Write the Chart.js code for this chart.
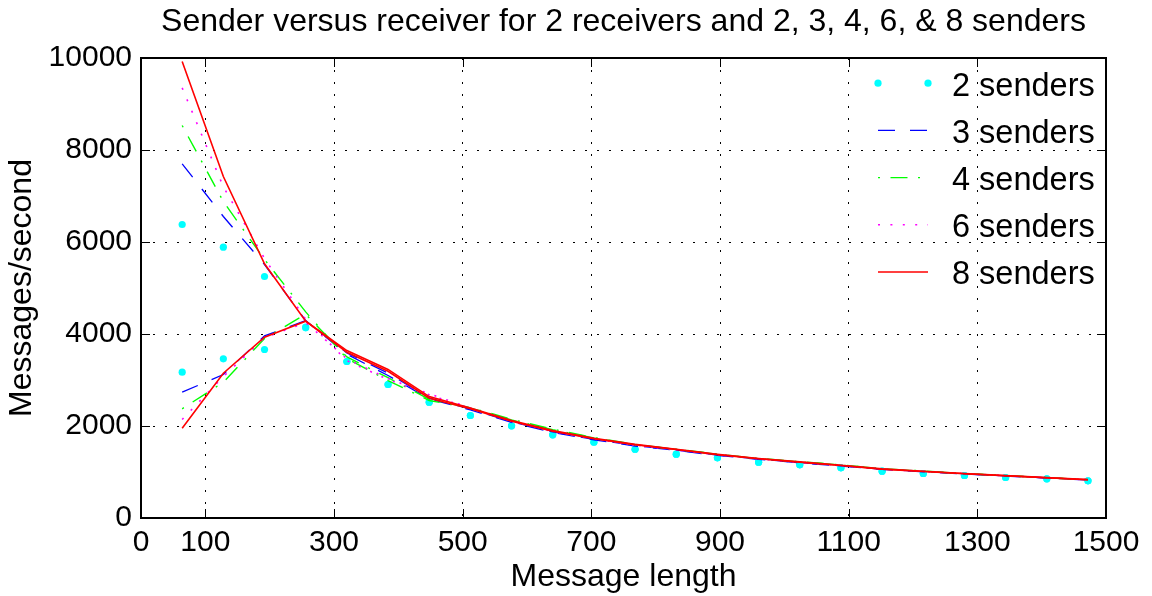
<!DOCTYPE html>
<html>
<head>
<meta charset="utf-8">
<script src="https://cdn.jsdelivr.net/npm/chart.js@4.4.1/dist/chart.umd.min.js"></script>
<style>
html,body{margin:0;padding:0;background:#fff;}
#wrap{width:1152px;height:596px;position:relative;}
</style>
</head>
<body>
<div id="wrap"><canvas id="c" width="1152" height="596"></canvas></div>
<script>
// ---- data ----
const messageLength = [64,128,192,256,320,384,448,512,576,640,704,768,832,896,960,1024,1088,1152,1216,1280,1344,1408,1472];

const senders2Sender   = [6380,5887,5250,4135,3402,2902,2517,2228,2004,1808,1648,1495,1387,1309,1213,1157,1091,1017,967,924,880,852,809];
const senders2Receiver = [3170,3461,3663,4150,3402,2902,2517,2228,2004,1808,1648,1495,1387,1309,1213,1157,1091,1017,967,924,880,852,809];

const senders3Sender   = [7700,6554,5511,4293,3560,3098,2590,2350,2080,1860,1700,1565,1470,1360,1275,1200,1130,1055,1005,955,912,870,825];
const senders3Receiver = [2735,3120,3960,4290,3590,3150,2610,2365,2095,1870,1710,1575,1478,1368,1282,1206,1136,1060,1010,960,915,872,828];

const senders4Sender   = [8533,6880,5620,4480,3467,2989,2554,2390,2130,1920,1740,1590,1490,1385,1290,1220,1150,1070,1018,965,920,876,832];
const senders4Receiver = [2374,2952,3900,4430,3500,3050,2580,2400,2145,1930,1750,1598,1496,1390,1296,1225,1154,1074,1022,968,923,878,834];

const senders6Sender   = [9350,7200,5640,4320,3420,3010,2680,2380,2100,1880,1720,1580,1480,1375,1285,1210,1140,1062,1012,962,918,873,830];
const senders6Receiver = [2141,3076,3920,4250,3460,3030,2700,2390,2110,1890,1728,1586,1485,1380,1290,1215,1144,1066,1015,964,920,875,831];

const senders8Sender   = [9924,7424,5526,4278,3604,3191,2604,2374,2104,1887,1722,1591,1489,1374,1287,1213,1141,1061,1011,961,917,874,830];
const senders8Receiver = [1952,3148,3930,4278,3640,3230,2640,2390,2120,1900,1735,1600,1495,1385,1295,1220,1148,1068,1016,966,921,878,834];

const seriesLabels = ['2 senders','3 senders','4 senders','6 senders','8 senders'];
const xTickValues = [0,100,300,500,700,900,1100,1300,1500];
const yTickValues = [0,2000,4000,6000,8000,10000];
const chartTitle = 'Sender versus receiver for 2 receivers and 2, 3, 4, 6, & 8 senders';
const xAxisTitle = 'Message length';
const yAxisTitle = 'Messages/second';

// ---- styles ----
const FONT = "'Liberation Sans', Arimo, Helvetica, Arial, sans-serif";
const seriesStyles = [
  {color:'#00ffff', points:true, radius:3.6},
  {color:'#0000ff', dash:[17,15], width:1.3},
  {color:'#00ff00', dash:[2,10.5,17,10.5], width:1.4},
  {color:'#ff00ff', dash:[2,10.4], width:1.6},
  {color:'#ff0000', dash:[], width:1.6}
];
const seriesData = [
  [senders2Sender, senders2Receiver],
  [senders3Sender, senders3Receiver],
  [senders4Sender, senders4Receiver],
  [senders6Sender, senders6Receiver],
  [senders8Sender, senders8Receiver]
];

const datasets = [];
seriesData.forEach((pair, i) => {
  const st = seriesStyles[i];
  pair.forEach((vals, k) => {
    datasets.push({
      label: seriesLabels[i] + (k ? ' (receiver)' : ''),
      data: messageLength.map((x, j) => ({x: x, y: vals[j]})),
      showLine: !st.points,
      borderColor: st.color,
      backgroundColor: st.color,
      borderWidth: st.width || 1,
      borderDash: st.dash || [],
      pointRadius: st.points ? st.radius : 0,
      pointHoverRadius: 0,
      pointBorderWidth: 0,
      pointBackgroundColor: st.color,
      tension: 0,
      fill: false,
      order: 10 - i
    });
  });
});

Chart.defaults.font.family = FONT;
Chart.defaults.color = '#000';

const framePlugin = {
  id: 'frame',
  afterDatasetsDraw(chart) {
    const {ctx, chartArea: a, scales: {x, y}} = chart;
    ctx.save();
    ctx.strokeStyle = '#000';
    ctx.lineWidth = 1;
    ctx.setLineDash([]);
    ctx.beginPath();
    xTickValues.forEach(v => {
      const px = Math.round(x.getPixelForValue(v)) + 0.5;
      ctx.moveTo(px, a.bottom); ctx.lineTo(px, a.bottom - 9);
      ctx.moveTo(px, a.top); ctx.lineTo(px, a.top + 9);
    });
    yTickValues.forEach(v => {
      const py = Math.round(y.getPixelForValue(v)) + 0.5;
      ctx.moveTo(a.left, py); ctx.lineTo(a.left + 9, py);
      ctx.moveTo(a.right, py); ctx.lineTo(a.right - 9, py);
    });
    ctx.stroke();
    ctx.lineWidth = 2;
    ctx.strokeRect(a.left, a.top, a.right - a.left, a.bottom - a.top);
    ctx.restore();
  }
};

const legendPlugin = {
  id: 'innerLegend',
  afterDatasetsDraw(chart) {
    const {ctx, chartArea: a} = chart;
    const x0 = a.right - 228, x1 = x0 + 50, tx = x0 + 74;
    seriesLabels.forEach((lab, i) => {
      const st = seriesStyles[i];
      const yy = a.top + 25.2 + i * 47.2;
      ctx.save();
      if (st.points) {
        ctx.fillStyle = st.color;
        [x0, x1].forEach(px => { ctx.beginPath(); ctx.arc(px, yy, st.radius, 0, Math.PI * 2); ctx.fill(); });
      } else {
        ctx.strokeStyle = st.color;
        ctx.lineWidth = st.width;
        ctx.setLineDash(st.dash);
        ctx.beginPath(); ctx.moveTo(x0, yy); ctx.lineTo(x1, yy); ctx.stroke();
      }
      ctx.fillStyle = '#000';
      ctx.font = '32.5px ' + FONT;
      ctx.textBaseline = 'middle';
      ctx.textAlign = 'left';
      ctx.fillText(lab, tx, yy + 3.5);
      ctx.restore();
    });
  }
};

new Chart(document.getElementById('c'), {
  type: 'line',
  data: { datasets: datasets },
  plugins: [framePlugin, legendPlugin],
  options: {
    responsive: false,
    animation: false,
    devicePixelRatio: 1,
    layout: { padding: { left: 0, right: 46, top: 0, bottom: 0 } },
    plugins: {
      legend: { display: false },
      tooltip: { enabled: false },
      title: {
        display: true,
        fullSize: false,
        text: chartTitle,
        color: '#000',
        font: { size: 32, weight: 'normal', family: FONT },
        padding: { top: 3, bottom: 16.6 }
      }
    },
    scales: {
      x: {
        type: 'linear',
        min: 0, max: 1500,
        afterBuildTicks: s => { s.ticks = xTickValues.map(v => ({value: v})); },
        afterFit: s => { s.height = 78; },
        ticks: { autoSkip: false, maxRotation: 0, padding: 7, font: { size: 30 }, color: '#000', callback: v => String(v) },
        grid: { color: '#000', lineWidth: 1, drawTicks: false },
        border: { display: false, dash: [2, 10] },
        title: { display: true, text: xAxisTitle, font: { size: 32 }, color: '#000', padding: { top: 0, bottom: 0 } }
      },
      y: {
        type: 'linear',
        min: 0, max: 10000,
        afterBuildTicks: s => { s.ticks = yTickValues.map(v => ({value: v})); },
        afterFit: s => { s.width = 141; },
        ticks: { padding: 9, font: { size: 30 }, color: '#000', callback: v => String(v) },
        grid: { color: '#000', lineWidth: 1, drawTicks: false },
        border: { display: false, dash: [2, 10] },
        title: { display: true, text: yAxisTitle, font: { size: 32 }, color: '#000', padding: { top: 3, bottom: 0 } }
      }
    }
  }
});
</script>
</body>
</html>
